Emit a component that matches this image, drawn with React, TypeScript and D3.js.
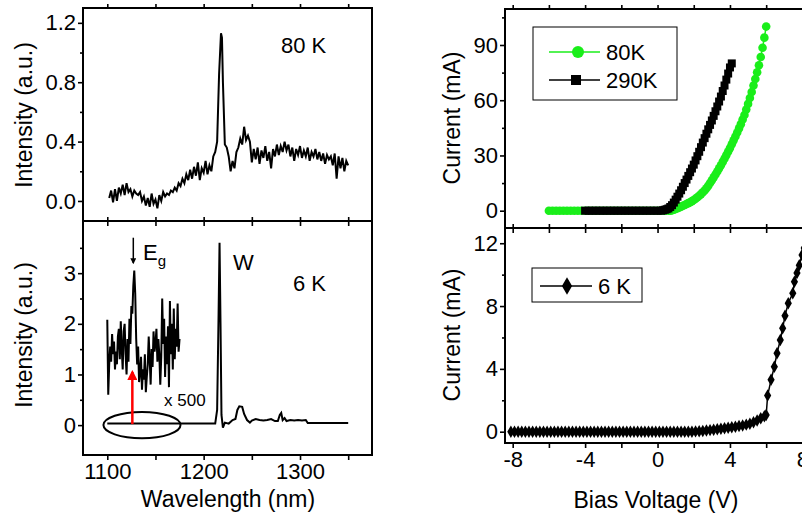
import React, { useEffect, useRef } from 'react';
import * as d3 from 'd3';

// ---- data ----
const spec80K: [number, number][] = [
  [1102, 0.02], [1104, 0.07], [1106, -0.01], [1108, 0.08], [1110, 0.0], [1112, 0.09], [1114, 0.05],
  [1116, 0.11], [1118, 0.04], [1120, 0.12], [1122, 0.06], [1124, 0.08], [1126, 0.03], [1128, 0.07],
  [1130, 0.05], [1132, 0.04], [1134, 0.06], [1136, 0.0], [1138, 0.03], [1140, -0.03], [1142, 0.02],
  [1144, -0.04], [1146, 0.05], [1148, -0.02], [1150, 0.01], [1152, -0.05], [1154, 0.04], [1156, 0.0],
  [1158, 0.06], [1160, 0.03], [1162, 0.05], [1164, 0.04], [1166, 0.07], [1168, 0.06], [1170, 0.09],
  [1172, 0.07], [1174, 0.12], [1176, 0.1], [1178, 0.15], [1180, 0.12], [1182, 0.18], [1184, 0.14],
  [1186, 0.21], [1188, 0.15], [1190, 0.23], [1192, 0.17], [1194, 0.26], [1196, 0.14], [1198, 0.22],
  [1200, 0.19], [1202, 0.27], [1204, 0.18], [1206, 0.24], [1208, 0.2], [1210, 0.3], [1212, 0.33],
  [1214, 0.4], [1216, 0.85], [1218, 1.13], [1219, 1.1], [1220, 0.8], [1222, 0.38], [1224, 0.36],
  [1226, 0.3], [1228, 0.2], [1230, 0.27], [1232, 0.22], [1234, 0.33], [1236, 0.36], [1238, 0.42],
  [1240, 0.38], [1242, 0.5], [1244, 0.41], [1246, 0.44], [1248, 0.4], [1250, 0.26], [1252, 0.35],
  [1254, 0.28], [1256, 0.36], [1258, 0.25], [1260, 0.34], [1262, 0.29], [1264, 0.37], [1266, 0.27],
  [1268, 0.33], [1270, 0.22], [1272, 0.35], [1274, 0.3], [1276, 0.38], [1278, 0.31], [1280, 0.37],
  [1282, 0.33], [1284, 0.4], [1286, 0.34], [1288, 0.38], [1290, 0.3], [1292, 0.36], [1294, 0.27],
  [1296, 0.35], [1298, 0.31], [1300, 0.37], [1302, 0.29], [1304, 0.34], [1306, 0.3], [1308, 0.36],
  [1310, 0.27], [1312, 0.33], [1314, 0.3], [1316, 0.35], [1318, 0.28], [1320, 0.33], [1322, 0.27],
  [1324, 0.32], [1326, 0.25], [1328, 0.31], [1330, 0.28], [1332, 0.3], [1334, 0.24], [1336, 0.32],
  [1338, 0.15], [1340, 0.3], [1342, 0.22], [1344, 0.29], [1346, 0.2], [1348, 0.27], [1350, 0.24],
];

const spec6K: [number, number][] = [
  [1100, 0.03], [1212, 0.03], [1214, 0.3], [1215.5, 2.2], [1216.5, 3.6], [1217.5, 2.0], [1218.5, 0.2],
  [1220, -0.05], [1222, 0.05], [1226, 0.03], [1230, 0.1], [1233, 0.12], [1235, 0.3], [1237, 0.37],
  [1240, 0.36], [1242, 0.22], [1245, 0.1], [1248, 0.05], [1250, 0.09], [1254, 0.12], [1258, 0.1],
  [1262, 0.09], [1266, 0.1], [1270, 0.12], [1274, 0.08], [1277, 0.08], [1279, 0.2], [1280.5, 0.24],
  [1282, 0.1], [1284, 0.14], [1286, 0.08], [1290, 0.1], [1294, 0.09], [1298, 0.1], [1302, 0.09],
  [1306, 0.1], [1308, 0.04], [1350, 0.04],
];

// x500 magnified band-edge region
const spec6Kx500: [number, number][] = [
  [1100, 2.08], [1101, 0.6], [1102, 1.2], [1103, 1.55], [1104, 1.25], [1105, 1.8], [1106, 1.4],
  [1107, 1.65], [1108, 1.1], [1109, 1.45], [1110, 1.2], [1111, 1.75], [1112, 1.9], [1113, 1.3],
  [1114, 2.05], [1115, 1.5], [1116, 1.1], [1117, 1.85], [1118, 2.0], [1119, 1.4], [1120, 1.0],
  [1121, 1.7], [1122, 1.25], [1123, 2.1], [1124, 1.6], [1125, 2.35], [1126, 2.2], [1127, 2.75],
  [1128, 3.05], [1129, 2.6], [1130, 1.7], [1131, 1.2], [1132, 1.55], [1133, 0.85], [1134, 1.05],
  [1135, 1.35], [1136, 0.7], [1137, 1.1], [1138, 0.9], [1139, 1.4], [1140, 0.65], [1141, 0.95],
  [1142, 1.2], [1143, 1.75], [1144, 1.3], [1145, 0.8], [1146, 1.5], [1147, 1.15], [1148, 1.85],
  [1149, 1.45], [1150, 1.6], [1151, 1.9], [1152, 1.25], [1153, 1.7], [1154, 1.4], [1155, 0.8],
  [1156, 1.35], [1157, 2.5], [1158, 1.6], [1159, 2.1], [1160, 0.95], [1161, 1.75], [1162, 1.2],
  [1163, 1.95], [1164, 0.75], [1165, 2.45], [1166, 1.4], [1167, 2.0], [1168, 1.1], [1169, 2.3],
  [1170, 1.3], [1171, 1.9], [1172, 1.55], [1173, 2.4], [1174, 1.45], [1175, 1.7],
];

const iv80K: [number, number][] = [
  [-6, 0], [-5.8, 0], [-5.6, 0], [-5.4, 0], [-5.2, 0], [-5, 0], [-4.8, 0], [-4.6, 0], [-4.4, 0],
  [-4.2, 0], [-4, 0], [-3.8, 0], [-3.6, 0], [-3.4, 0], [-3.2, 0], [-3, 0], [-2.8, 0], [-2.6, 0],
  [-2.4, 0], [-2.2, 0], [-2, 0], [-1.8, 0], [-1.6, 0], [-1.4, 0], [-1.2, 0], [-1, 0], [-0.8, 0],
  [-0.6, 0], [-0.4, 0], [-0.2, 0], [0, 0], [0.2, 0], [0.4, 0], [0.6, 0], [0.7, 0], [0.8, 0.2],
  [0.9, 0.6], [1.0, 1.0], [1.1, 1.4], [1.2, 1.8], [1.3, 2.2], [1.4, 2.7], [1.5, 3.1], [1.6, 3.6],
  [1.7, 4.1], [1.8, 4.6], [1.9, 5.2], [2.0, 5.8], [2.1, 6.5], [2.2, 7.3], [2.3, 8.1], [2.4, 9.0],
  [2.5, 10.0], [2.6, 11.0], [2.7, 12.2], [2.8, 13.5], [2.9, 15.0], [3.0, 16.5], [3.1, 18.1],
  [3.2, 19.7], [3.3, 21.3], [3.4, 23.0], [3.5, 24.7], [3.6, 26.5], [3.7, 28.3], [3.8, 30.2],
  [3.9, 32.1], [4.0, 34.0], [4.1, 36.1], [4.2, 38.2], [4.3, 40.3], [4.4, 42.5], [4.5, 44.7],
  [4.6, 47.0], [4.7, 49.5], [4.8, 52.0], [4.9, 55.0], [5.0, 58.0], [5.1, 61.2], [5.2, 64.5],
  [5.3, 68.0], [5.4, 71.5], [5.5, 75.2], [5.6, 79.0], [5.7, 83.5], [5.8, 88.5], [5.9, 94.0],
  [6.0, 100.0],
];

const iv290K: [number, number][] = [
  [-4, 0], [-3.8, 0], [-3.6, 0], [-3.4, 0], [-3.2, 0], [-3, 0], [-2.8, 0], [-2.6, 0], [-2.4, 0],
  [-2.2, 0], [-2, 0], [-1.8, 0], [-1.6, 0], [-1.4, 0], [-1.2, 0], [-1, 0], [-0.8, 0], [-0.6, 0],
  [-0.4, 0], [-0.2, 0], [0, 0], [0.2, 0], [0.3, 0.2], [0.4, 0.5], [0.5, 0.8], [0.6, 1.2], [0.7, 2.0],
  [0.8, 3.0], [0.9, 4.4], [1.0, 6.0], [1.1, 7.6], [1.2, 9.3], [1.3, 11.1], [1.4, 13.0], [1.5, 15.0],
  [1.6, 16.9], [1.7, 18.9], [1.8, 20.9], [1.9, 22.9], [2.0, 25.0], [2.1, 27.3], [2.2, 29.6],
  [2.3, 32.0], [2.4, 34.5], [2.5, 37.0], [2.6, 39.4], [2.7, 41.8], [2.8, 44.2], [2.9, 46.6],
  [3.0, 49.0], [3.1, 51.5], [3.2, 54.0], [3.3, 56.6], [3.4, 59.3], [3.5, 62.0], [3.6, 65.0],
  [3.7, 68.0], [3.8, 71.2], [3.9, 74.5], [4.0, 77.8], [4.1, 80.0],
];

const iv6K: [number, number][] = [
  [-8.1, 0], [-7.9, 0], [-7.7, 0], [-7.5, 0], [-7.3, 0], [-7.1, 0], [-6.9, 0], [-6.7, 0], [-6.5, 0],
  [-6.3, 0], [-6.1, 0], [-5.9, 0], [-5.7, 0], [-5.5, 0], [-5.3, 0], [-5.1, 0], [-4.9, 0], [-4.7, 0],
  [-4.5, 0], [-4.3, 0], [-4.1, 0], [-3.9, 0], [-3.7, 0], [-3.5, 0], [-3.3, 0], [-3.1, 0], [-2.9, 0],
  [-2.7, 0], [-2.5, 0], [-2.3, 0], [-2.1, 0], [-1.9, 0], [-1.7, 0], [-1.5, 0], [-1.3, 0], [-1.1, 0],
  [-0.9, 0], [-0.7, 0], [-0.5, 0], [-0.3, 0], [-0.1, 0], [0.1, 0], [0.3, 0], [0.5, 0], [0.7, 0],
  [0.9, 0], [1.1, 0], [1.3, 0], [1.5, 0], [1.7, 0], [1.9, 0], [2.1, 0.02], [2.3, 0.03], [2.5, 0.05],
  [2.7, 0.08], [2.9, 0.1], [3.1, 0.12], [3.3, 0.16], [3.5, 0.18], [3.7, 0.22], [3.9, 0.25],
  [4.1, 0.28], [4.3, 0.32], [4.5, 0.36], [4.7, 0.4], [4.9, 0.45], [5.1, 0.5], [5.3, 0.6],
  [5.5, 0.72], [5.7, 0.85], [5.9, 0.98], [6.0, 1.06], [6.08, 2.3], [6.27, 3.3], [6.45, 4.14],
  [6.6, 5.0], [6.78, 5.84], [6.91, 6.58], [7.04, 7.39], [7.22, 8.18], [7.47, 8.81], [7.56, 9.55],
  [7.7, 10.1], [7.83, 10.6], [7.98, 11.25], [8.1, 11.7],
];

const wlTicks = [1100, 1200, 1300];
const wlMinor = [1150, 1250, 1350];
const vTicks = [-8, -4, 0, 4, 8];
const vMinor = [-6, -2, 2, 6];

const GREEN = '#1aee1a';
const FONT = '"Liberation Sans", Arial, sans-serif';

interface Panel {
  x0: number; x1: number; y0: number; y1: number;
  xd: [number, number]; yd: [number, number];
}

const App: React.FC = () => {
  const ref = useRef<SVGSVGElement>(null);

  useEffect(() => {
    if (!ref.current) return;
    const svg = d3.select(ref.current);
    svg.selectAll('*').remove();

    const defs = svg.append('defs');
    const mk = (id: string, color: string) =>
      defs.append('marker').attr('id', id).attr('viewBox', '0 0 10 10').attr('refX', 8).attr('refY', 5)
        .attr('markerWidth', 4).attr('markerHeight', 4).attr('orient', 'auto')
        .append('path').attr('d', 'M0,0 L10,5 L0,10 z').attr('fill', color);
    mk('arrRed', 'red');
    mk('arrBlk', 'black');

    const makePanel = (p: Panel, opts: {
      yMajor: number[]; yMinor: number[]; yFmt: (d: number) => string;
      xMajor: number[]; xMinor: number[]; xLabels: boolean; xFmt: (d: number) => string;
    }) => {
      const x = d3.scaleLinear().domain(p.xd).range([p.x0, p.x1]);
      const y = d3.scaleLinear().domain(p.yd).range([p.y1, p.y0]);
      const g = svg.append('g');

      const yAx = g.append('g').attr('transform', `translate(${p.x0},0)`)
        .call(d3.axisLeft(y).tickValues(opts.yMajor).tickSize(5).tickSizeOuter(0).tickPadding(2).tickFormat(opts.yFmt as any));
      yAx.selectAll('text').attr('font-size', 22).attr('font-family', FONT).attr('fill', '#000');
      g.append('g').attr('transform', `translate(${p.x0},0)`)
        .call(d3.axisLeft(y).tickValues(opts.yMinor).tickSize(3).tickSizeOuter(0).tickFormat(() => ''));

      const xb = g.append('g').attr('transform', `translate(0,${p.y1})`)
        .call(d3.axisBottom(x).tickValues([...opts.xMajor, ...opts.xMinor]).tickSize(5).tickSizeOuter(0)
          .tickPadding(3).tickFormat((d: any) => (opts.xLabels && opts.xMajor.includes(d) ? opts.xFmt(d) : '')));
      xb.selectAll('text').attr('font-size', 22).attr('font-family', FONT).attr('fill', '#000');
      g.append('g').attr('transform', `translate(0,${p.y0})`)
        .call(d3.axisTop(x).tickValues([...opts.xMajor, ...opts.xMinor]).tickSize(4).tickSizeOuter(0).tickFormat(() => ''));

      g.selectAll('.domain').remove();
      g.selectAll('.tick line').attr('stroke', '#000').attr('stroke-width', 1.6);
      g.append('rect').attr('x', p.x0).attr('y', p.y0).attr('width', p.x1 - p.x0).attr('height', p.y1 - p.y0)
        .attr('fill', 'none').attr('stroke', '#000').attr('stroke-width', 2);
      return { x, y, g };
    };

    const txt = (s: string, x: number, y: number, size: number, anchor = 'start', rotate = false) => {
      const t = svg.append('text').attr('font-family', FONT).attr('font-size', size).attr('text-anchor', anchor).text(s);
      if (rotate) t.attr('transform', `translate(${x},${y}) rotate(-90)`);
      else t.attr('x', x).attr('y', y);
      return t;
    };

    // --- top-left: 80 K spectrum ---
    const tl = makePanel({ x0: 83, x1: 372, y0: 8, y1: 221, xd: [1074.8, 1374.7], yd: [-0.135, 1.3] }, {
      yMajor: [0, 0.4, 0.8, 1.2], yMinor: [0.2, 0.6, 1.0], yFmt: d3.format('.1f'),
      xMajor: wlTicks, xMinor: wlMinor, xLabels: false, xFmt: String,
    });
    const lineTL = d3.line<[number, number]>().x(d => tl.x(d[0])).y(d => tl.y(d[1]));
    tl.g.append('path').attr('d', lineTL(spec80K)).attr('fill', 'none').attr('stroke', '#000').attr('stroke-width', 2);
    txt('80 K', 281, 53, 22);

    // --- bottom-left: 6 K spectrum ---
    const bl = makePanel({ x0: 83, x1: 372, y0: 221, y1: 455, xd: [1074.8, 1374.7], yd: [-0.59, 4.03] }, {
      yMajor: [0, 1, 2, 3], yMinor: [0.5, 1.5, 2.5, 3.5], yFmt: d3.format('d'),
      xMajor: wlTicks, xMinor: wlMinor, xLabels: true, xFmt: String,
    });
    const lineBL = d3.line<[number, number]>().x(d => bl.x(d[0])).y(d => bl.y(d[1]));
    bl.g.append('path').attr('d', lineBL(spec6K)).attr('fill', 'none').attr('stroke', '#000').attr('stroke-width', 2);
    bl.g.append('path').attr('d', lineBL(spec6Kx500)).attr('fill', 'none').attr('stroke', '#000').attr('stroke-width', 2);
    // ellipse around the magnified region
    bl.g.append('ellipse').attr('cx', bl.x(1136)).attr('cy', bl.y(0))
      .attr('rx', bl.x(1176) - bl.x(1136)).attr('ry', bl.y(0) - bl.y(0.26))
      .attr('fill', 'none').attr('stroke', '#000').attr('stroke-width', 2);
    // red arrow
    bl.g.append('line').attr('x1', bl.x(1126)).attr('x2', bl.x(1126)).attr('y1', bl.y(0.02)).attr('y2', bl.y(1.05))
      .attr('stroke', 'red').attr('stroke-width', 2.5).attr('marker-end', 'url(#arrRed)');
    // Eg arrow
    bl.g.append('line').attr('x1', bl.x(1127)).attr('x2', bl.x(1127)).attr('y1', bl.y(3.7)).attr('y2', bl.y(3.2))
      .attr('stroke', '#000').attr('stroke-width', 1.5).attr('marker-end', 'url(#arrBlk)');
    const eg = txt('E', 143, 260, 22);
    eg.append('tspan').attr('font-size', 15).attr('dy', 6).text('g');
    txt('W', 233, 270, 22);
    txt('6 K', 293, 291, 22);
    txt('x 500', 164, 406, 17);

    // --- top-right: IV at 80 K and 290 K ---
    const tr = makePanel({ x0: 505, x1: 808, y0: 9, y1: 228, xd: [-8.425, 8.31], yd: [-9.4, 109.55] }, {
      yMajor: [0, 30, 60, 90], yMinor: [15, 45, 75, 105], yFmt: d3.format('d'),
      xMajor: vTicks, xMinor: vMinor, xLabels: false, xFmt: String,
    });
    const lineTR = d3.line<[number, number]>().x(d => tr.x(d[0])).y(d => tr.y(d[1]));
    tr.g.append('path').attr('d', lineTR(iv80K)).attr('fill', 'none').attr('stroke', GREEN).attr('stroke-width', 1.5);
    tr.g.selectAll('.c80').data(iv80K).enter().append('circle')
      .attr('cx', d => tr.x(d[0])).attr('cy', d => tr.y(d[1])).attr('r', 4.3).attr('fill', GREEN);
    tr.g.append('path').attr('d', lineTR(iv290K)).attr('fill', 'none').attr('stroke', '#000').attr('stroke-width', 1.5);
    tr.g.selectAll('.s290').data(iv290K).enter().append('rect')
      .attr('x', d => tr.x(d[0]) - 4).attr('y', d => tr.y(d[1]) - 4).attr('width', 8).attr('height', 8).attr('fill', '#000');
    // legend
    tr.g.append('rect').attr('x', 533).attr('y', 27).attr('width', 144).attr('height', 73)
      .attr('fill', '#fff').attr('stroke', '#000').attr('stroke-width', 1);
    tr.g.append('line').attr('x1', 549).attr('x2', 600).attr('y1', 52).attr('y2', 52).attr('stroke', GREEN).attr('stroke-width', 1.5);
    tr.g.append('circle').attr('cx', 578).attr('cy', 52).attr('r', 6).attr('fill', GREEN);
    tr.g.append('line').attr('x1', 549).attr('x2', 600).attr('y1', 80).attr('y2', 80).attr('stroke', '#000').attr('stroke-width', 1.5);
    tr.g.append('rect').attr('x', 571).attr('y', 75).attr('width', 10).attr('height', 10).attr('fill', '#000');
    txt('80K', 606, 60, 22);
    txt('290K', 606, 88, 22);

    // --- bottom-right: IV at 6 K ---
    const br = makePanel({ x0: 505, x1: 808, y0: 228, y1: 443, xd: [-8.425, 8.31], yd: [-0.72, 12.97] }, {
      yMajor: [0, 4, 8, 12], yMinor: [2, 6, 10], yFmt: d3.format('d'),
      xMajor: vTicks, xMinor: vMinor, xLabels: true, xFmt: String,
    });
    const lineBR = d3.line<[number, number]>().x(d => br.x(d[0])).y(d => br.y(d[1]));
    br.g.append('path').attr('d', lineBR(iv6K)).attr('fill', 'none').attr('stroke', '#000').attr('stroke-width', 1.5);
    const diamond = d3.symbol().type(d3.symbolDiamond).size(45);
    br.g.selectAll('.d6').data(iv6K).enter().append('path')
      .attr('d', diamond as any).attr('transform', d => `translate(${br.x(d[0])},${br.y(d[1])})`).attr('fill', '#000');
    br.g.append('rect').attr('x', 532).attr('y', 268).attr('width', 110).attr('height', 34)
      .attr('fill', '#fff').attr('stroke', '#000').attr('stroke-width', 1);
    br.g.append('line').attr('x1', 540).attr('x2', 592).attr('y1', 286).attr('y2', 286).attr('stroke', '#000').attr('stroke-width', 1.5);
    br.g.append('path').attr('d', d3.symbol().type(d3.symbolDiamond).size(90)() as string)
      .attr('transform', 'translate(567,286)').attr('fill', '#000');
    txt('6 K', 598, 294, 22);

    // axis titles
    txt('Intensity (a.u.)', 32, 115, 23, 'middle', true);
    txt('Intensity (a.u.)', 32, 335, 23, 'middle', true);
    txt('Current (mA)', 460, 118, 23, 'middle', true);
    txt('Current (mA)', 460, 335, 23, 'middle', true);
    txt('Wavelength (nm)', 228, 507, 23, 'middle');
    txt('Bias Voltage (V)', 656, 508, 23, 'middle');
  }, []);

  return (
    <svg ref={ref} width={802} height={521}
      style={{ position: 'absolute', left: 0, top: 0, background: '#fff' }} />
  );
};

export default App;
